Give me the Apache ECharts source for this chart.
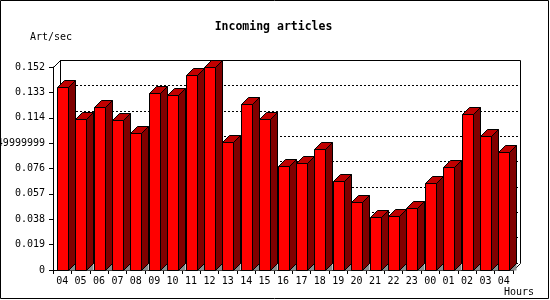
<!DOCTYPE html>
<html>
<head>
<meta charset="utf-8">
<script src="https://cdn.jsdelivr.net/npm/echarts@6/dist/echarts.min.js"></script>
<style>html,body{margin:0;padding:0;background:#fff;}#c{width:550px;height:300px;}</style>
</head>
<body>
<div id="c"></div>
<script>
const hours = ['04','05','06','07','08','09','10','11','12','13','14','15','16','17','18','19','20','21','22','23','00','01','02','03','04'];
const artPerSec = [0.1368,0.1131,0.1221,0.1123,0.1026,0.1323,0.1308,0.1458,0.1518,0.0956,0.1241,0.1131,0.0779,0.0801,0.0904,0.0664,0.0509,0.0394,0.0404,0.0462,0.0651,0.0771,0.1166,0.1003,0.0881];
const yTickLabels = ['0','0.019','0.038','0.057','0.076','0.0949999999','0.114','0.133','0.152'];
const yStep = 0.019;
const yMax = 0.152;

const FONT = 'DejaVu Sans Mono';
const D = 7;
const px = v => Math.round(v) + 0.5;

function renderItem(params, api) {
  const idx = api.value(0), v = api.value(1);
  const top = api.coord([idx, v]);
  const base = api.coord([idx, 0]);
  const slot = api.size([1, 0])[0];
  const fw = Math.round(slot * 0.6);
  const x0 = px(top[0] - fw / 2), x1 = x0 + fw;
  const yt = px(top[1]), y0 = px(base[1]);
  const stroke = {stroke: '#000', lineWidth: 1};
  return {
    type: 'group',
    children: [
      {type: 'polygon', shape: {points: [[x1, y0], [x1 + D, y0], [x1 + D, y0 - D]]}, style: {fill: '#8c8c8c', stroke: '#8c8c8c', lineWidth: 0}},
      {type: 'polygon', shape: {points: [[x1, yt], [x1 + D, yt - D], [x1 + D, y0 - D], [x1, y0]]}, style: Object.assign({fill: '#800000'}, stroke)},
      {type: 'polygon', shape: {points: [[x0, yt], [x0 + D, yt - D], [x1 + D, yt - D], [x1, yt]]}, style: Object.assign({fill: '#c00000'}, stroke)},
      {type: 'rect', shape: {x: x0, y: yt, width: fw, height: y0 - yt}, style: Object.assign({fill: '#ff0000'}, stroke)}
    ]
  };
}

const chart = echarts.init(document.getElementById('c'), null, {renderer: 'canvas'});
chart.setOption({
  animation: false,
  backgroundColor: '#fff',
  grid: [
    {left: 53, top: 67, width: 460, height: 203, containLabel: false, outerBoundsMode: 'none'},
    {left: 60, top: 60, width: 460, height: 203, containLabel: false, outerBoundsMode: 'none'}
  ],
  xAxis: [
    {
      type: 'category', gridIndex: 0, data: hours, boundaryGap: true,
      axisLine: {lineStyle: {color: '#000', width: 1}},
      axisTick: {show: true, length: 4, lineStyle: {color: '#000'}, interval: 0},
      axisLabel: {interval: 0, color: '#000', fontFamily: FONT, fontSize: 10, margin: 6, hideOverlap: false},
      splitLine: {show: false}
    },
    {type: 'value', gridIndex: 1, show: false, min: 0, max: 1}
  ],
  yAxis: [
    {
      type: 'value', gridIndex: 0, min: 0, max: yMax, interval: yStep,
      axisLine: {show: true, lineStyle: {color: '#000', width: 1}},
      axisTick: {show: true, length: 4, lineStyle: {color: '#000'}},
      axisLabel: {color: '#000', fontFamily: FONT, fontSize: 10, margin: 8,
        formatter: v => yTickLabels[Math.round(v / yStep)]},
      splitLine: {show: false}
    },
    {
      type: 'value', gridIndex: 1, min: 0, max: yMax, interval: yStep,
      axisLine: {show: false}, axisTick: {show: false}, axisLabel: {show: false},
      splitLine: {show: true, lineStyle: {color: '#000', type: [2, 2], width: 1}}
    }
  ],
  series: [{
    type: 'custom',
    xAxisIndex: 0, yAxisIndex: 0,
    renderItem: renderItem,
    encode: {x: 0, y: 1},
    data: artPerSec.map((v, i) => [i, v]),
    z: 5
  }],
  graphic: [
    {type: 'polyline', z: 1, silent: true,
      shape: {points: [[53.5, 67.5], [60.5, 60.5], [520.5, 60.5], [520.5, 263.5], [513.5, 270.5]]},
      style: {stroke: '#000', lineWidth: 1, fill: null}},
    {type: 'line', z: 1, silent: true,
      shape: {x1: 60.5, y1: 60.5, x2: 60.5, y2: 263.5},
      style: {stroke: '#000', lineWidth: 1}},
    {type: 'rect', z: 100, silent: true,
      shape: {x: 0.5, y: 0.5, width: 548, height: 298},
      style: {stroke: '#000', lineWidth: 1, fill: null}},
    {type: 'text', z: 100, x: 273.5, y: 27,
      style: {text: 'Incoming articles', fontFamily: FONT, fontWeight: 'bold', fontSize: 11.5, fill: '#000', align: 'center', verticalAlign: 'middle'}},
    {type: 'text', z: 100, x: 30, y: 37,
      style: {text: 'Art/sec', fontFamily: FONT, fontSize: 10, fill: '#000', align: 'left', verticalAlign: 'middle'}},
    {type: 'text', z: 100, x: 504, y: 292,
      style: {text: 'Hours', fontFamily: FONT, fontSize: 10, fill: '#000', align: 'left', verticalAlign: 'middle'}}
  ]
});
</script>
</body>
</html>
